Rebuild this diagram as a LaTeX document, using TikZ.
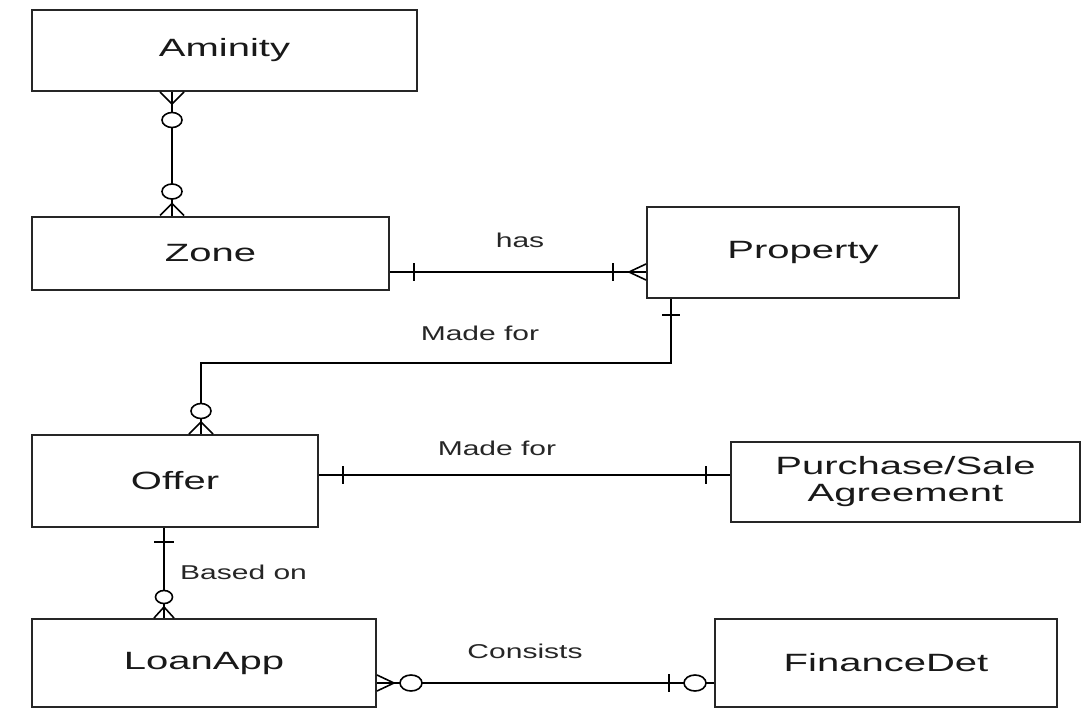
\documentclass[tikz,border=0pt]{standalone}
\usepackage{fontspec}
\setmainfont[FakeStretch=1.5]{Liberation Sans}
\newfontfamily\boxfont[FakeStretch=1.6]{Liberation Sans}
\usetikzlibrary{calc}
\begin{document}
\begin{tikzpicture}[x=1pt,y=-1pt,
  box/.style={draw=black!85,line width=2pt,fill=white,inner sep=0pt,font=\boxfont\fontsize{25}{27}\selectfont,align=center,text=black!90},
  conn/.style={line width=1.6pt,draw=black},
  erm/.style={line width=1.6pt,draw=black},
  lbl/.style={font=\fontsize{20}{22}\selectfont,inner sep=0pt,text=black!85}]
\useasboundingbox (0,0) rectangle (1084,709);
% entities
\node[box,minimum width=385pt,minimum height=81pt] (amin) at (224.5,50.5) {Aminity};
\node[box,minimum width=357pt,minimum height=73pt] (zone) at (210.5,253) {Zone};
\node[box,minimum width=312pt,minimum height=91pt] (prop) at (803,252.5) {Property};
\node[box,minimum width=286pt,minimum height=92pt] (offer) at (175,481) {Offer};
\node[box,minimum width=349pt,minimum height=80pt] (purch) at (905.5,482) {Purchase/Sale\\Agreement};
\node[box,minimum width=344pt,minimum height=88pt] (loan) at (204,663) {LoanApp};
\node[box,minimum width=342pt,minimum height=88pt] (fin) at (886,663) {FinanceDet};
% connection points
\coordinate (A) at ([xshift=141pt]amin.south west);
\coordinate (B) at ([xshift=141pt]zone.north west);
\coordinate (C) at ([yshift=-19pt]zone.east);
\coordinate (D) at (C -| prop.west);
\coordinate (E) at ([xshift=25pt]prop.south west);
\coordinate (F) at ([xshift=170pt]offer.north west);
\coordinate (G) at ([yshift=6pt]offer.east);
\coordinate (H) at (G -| purch.west);
\coordinate (I) at ([xshift=133pt]offer.south west);
\coordinate (J) at ([xshift=133pt]loan.north west);
\coordinate (K) at ([yshift=-20pt]loan.east);
\coordinate (L) at (K -| fin.west);
% connectors
\draw[conn] (A) -- (B);
\draw[conn] (C) -- (D);
\draw[conn] (E) -- ++(0,64) -| (F);
\draw[conn] (G) -- (H);
\draw[conn] (I) -- (J);
\draw[conn] (K) -- (L);
% markers: Aminity end (zero or many)
\draw[erm] (A) ++(-12,0) -- ++(12,12) -- ++(12,-12);
\draw[erm,fill=white] ($(A)+(0,28)$) ellipse [x radius=10pt,y radius=7.5pt];
% Zone end (zero or many)
\draw[erm] (B) ++(-12,0) -- ++(12,-12) -- ++(12,12);
\draw[erm,fill=white] ($(B)+(0,-24)$) ellipse [x radius=10pt,y radius=7.5pt];
% Zone-Property
\draw[erm] ($(C)+(24,-9)$) -- ($(C)+(24,9)$);
\draw[erm] (D) ++(0,-8) -- ++(-17,8) -- ++(17,8);
\draw[erm] ($(D)+(-33,-9)$) -- ($(D)+(-33,9)$);
% Property-Offer
\draw[erm] ($(E)+(-9,16)$) -- ($(E)+(9,16)$);
\draw[erm] (F) ++(-12,0) -- ++(12,-12) -- ++(12,12);
\draw[erm,fill=white] ($(F)+(0,-23)$) ellipse [x radius=10pt,y radius=7.5pt];
% Offer-Purchase
\draw[erm] ($(G)+(24,-9)$) -- ($(G)+(24,9)$);
\draw[erm] ($(H)+(-24,-9)$) -- ($(H)+(-24,9)$);
% Offer-LoanApp
\draw[erm] ($(I)+(-10,14)$) -- ($(I)+(10,14)$);
\draw[erm] (J) ++(-10,0) -- ++(10,-11) -- ++(10,11);
\draw[erm,fill=white] ($(J)+(0,-21)$) ellipse [x radius=8.5pt,y radius=6.5pt];
% LoanApp-FinanceDet
\draw[erm] (K) ++(0,-8) -- ++(17,8) -- ++(-17,8);
\draw[erm,fill=white] ($(K)+(34,0)$) ellipse [x radius=11pt,y radius=8pt];
\draw[erm] ($(L)+(-45,-9)$) -- ($(L)+(-45,9)$);
\draw[erm,fill=white] ($(L)+(-19,0)$) ellipse [x radius=11pt,y radius=8pt];
% labels
\node[lbl] (l1) at (520,240) {has};
\node[lbl] (l2) at (480,333) {Made for};
\node[lbl] (l3) at (497,448) {Made for};
\node[lbl,anchor=west] (l4) at (180,572) {Based on};
\node[lbl] (l5) at (525,651) {Consists};
\end{tikzpicture}
\end{document}
